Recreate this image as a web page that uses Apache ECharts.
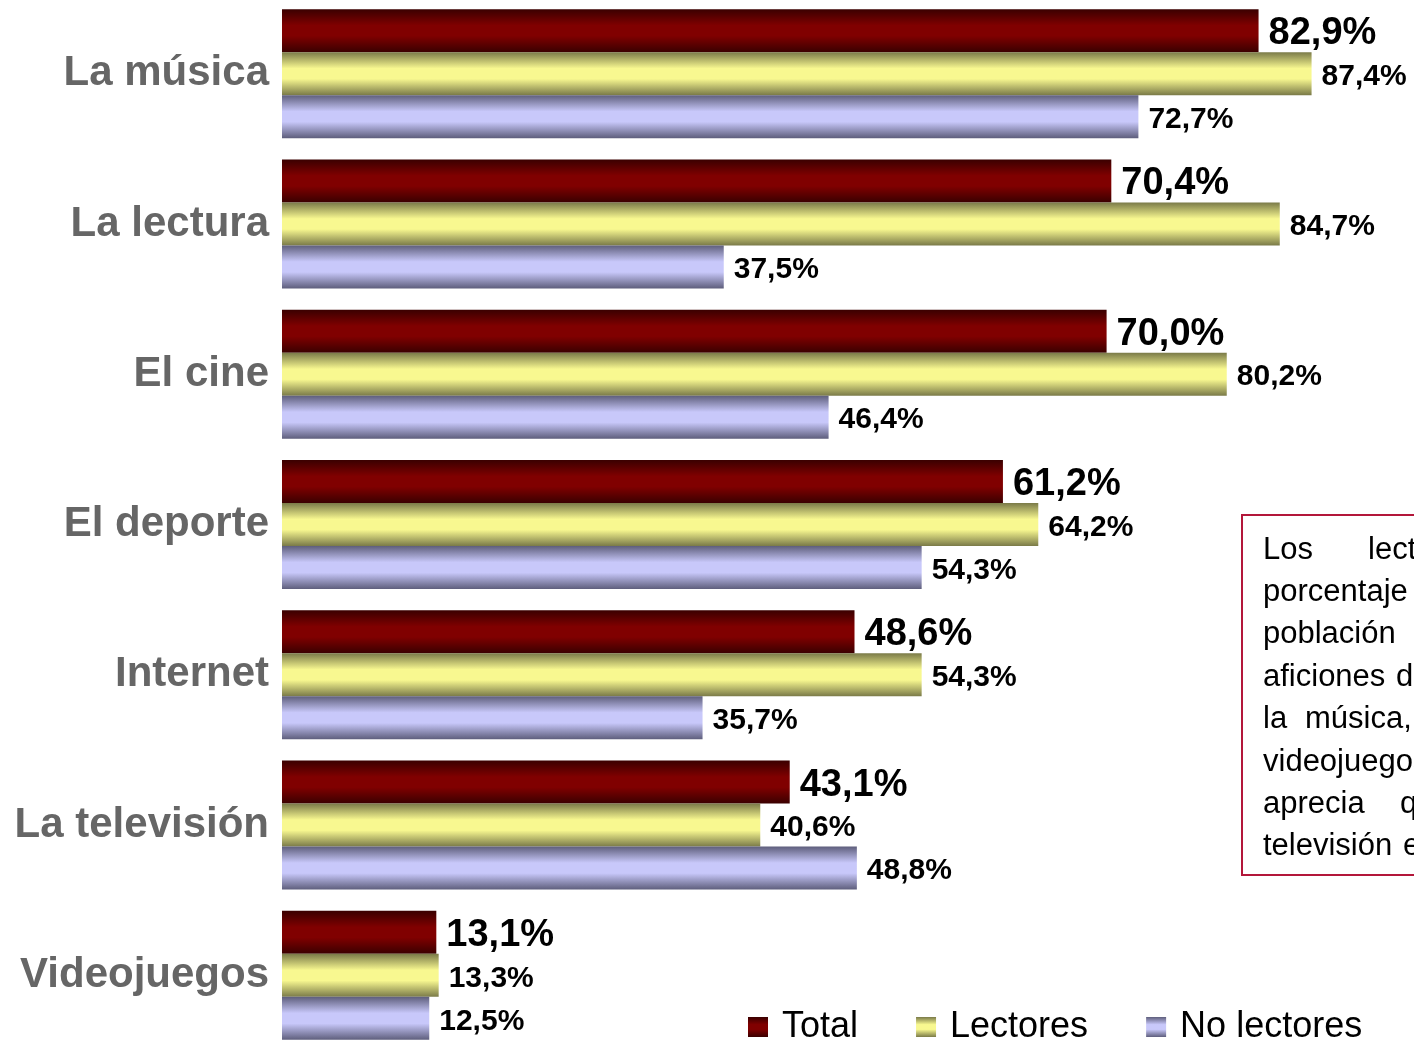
<!DOCTYPE html>
<html>
<head>
<meta charset="utf-8">
<script src="https://cdn.jsdelivr.net/npm/echarts@6/dist/echarts.min.js"></script>
<style>
html,body{margin:0;padding:0;background:#fff;}
#chart{width:1414px;height:1041px;}
</style>
</head>
<body>
<div id="chart"></div>
<script>
const categories = ['La música', 'La lectura', 'El cine', 'El deporte', 'Internet', 'La televisión', 'Videojuegos'];
const seriesNames = ['Total', 'Lectores', 'No lectores'];
const totalValues = [82.9, 70.4, 70.0, 61.2, 48.6, 43.1, 13.1];
const lectoresValues = [87.4, 84.7, 80.2, 64.2, 54.3, 40.6, 13.3];
const noLectoresValues = [72.7, 37.5, 46.4, 54.3, 35.7, 48.8, 12.5];
const noteLines = [
  ['Los', 'lectores'],
  ['porcentaje', 'de'],
  ['población', 'no'],
  ['aficiones', 'de'],
  ['la', 'música,'],
  ['videojuegos', 'y'],
  ['aprecia', 'que'],
  ['televisión', 'es']
];

const FONT = '"Liberation Sans", Arial, sans-serif';
function grad(edge, mid) {
  return new echarts.graphic.LinearGradient(0, 0, 0, 1, [
    {offset: 0, color: edge},
    {offset: 0.38, color: mid},
    {offset: 0.62, color: mid},
    {offset: 1, color: edge}
  ]);
}
const colors = [grad('#3a0000', '#800000'), grad('#7a7a48', '#f8f890'), grad('#5e5e7c', '#c8c8fa')];
const fmt = p => p.value.toFixed(1).replace('.', ',') + '%';

function makeSeries(name, values, idx) {
  return {
    name: name,
    type: 'bar',
    data: values,
    barWidth: 43,
    barGap: '0%',
    itemStyle: {color: colors[idx]},
    label: {
      show: true,
      position: 'right',
      distance: 10,
      offset: [0, 3],
      formatter: fmt,
      fontFamily: FONT,
      fontWeight: 'bold',
      fontSize: idx === 0 ? 38 : 30,
      color: '#000'
    },
    emphasis: {disabled: true}
  };
}

// Note box graphics
const graphics = [{
  type: 'rect',
  shape: {x: 1242, y: 515, width: 300, height: 360},
  style: {fill: '#fff', stroke: '#b3163a', lineWidth: 2},
  z: 10
}];
const secondX = [1368, 1425, 1425, 1396, 1305, 1425, 1400, 1403];
noteLines.forEach((ln, i) => {
  const y = 550 + i * 42.4;
  graphics.push({type: 'text', x: 1263, y: y, z: 11,
    style: {text: ln[0], font: '31px ' + FONT, fill: '#000', verticalAlign: 'middle'}});
  graphics.push({type: 'text', x: secondX[i], y: y, z: 11,
    style: {text: ln[1], font: '31px ' + FONT, fill: '#000', verticalAlign: 'middle'}});
});

const chart = echarts.init(document.getElementById('chart'), null, {renderer: 'canvas'});
chart.setOption({
  animation: false,
  backgroundColor: '#fff',
  grid: {left: 282, right: -46, top: -1.5, bottom: -9.5, containLabel: false, outerBoundsMode: 'none'},
  xAxis: {type: 'value', min: 0, max: 100, show: false},
  yAxis: {
    type: 'category',
    data: categories,
    inverse: true,
    axisLine: {show: false},
    axisTick: {show: false},
    splitLine: {show: false},
    axisLabel: {
      margin: 13,
      fontFamily: FONT,
      fontWeight: 'bold',
      fontSize: 42,
      color: '#666666',
      padding: [4, 0, 0, 0]
    }
  },
  legend: {
    data: seriesNames,
    left: 743,
    top: 1004,
    itemWidth: 20,
    itemHeight: 20,
    itemGap: 58,
    icon: 'rect',
    textStyle: {fontFamily: FONT, fontSize: 36, color: '#000', padding: [0, 0, 0, 9]}
  },
  series: [
    makeSeries(seriesNames[0], totalValues, 0),
    makeSeries(seriesNames[1], lectoresValues, 1),
    makeSeries(seriesNames[2], noLectoresValues, 2)
  ],
  graphic: graphics
});
</script>
</body>
</html>
